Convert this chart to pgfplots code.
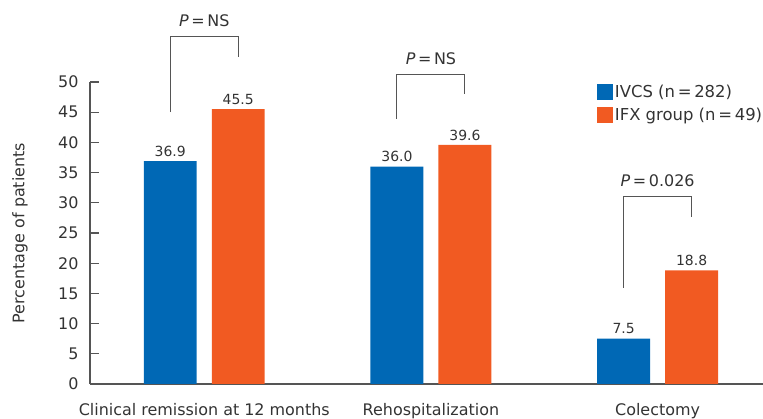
\documentclass[border=0pt]{standalone}
\usepackage{fontspec}
\setmainfont{DejaVu Sans}
\usepackage{pgfplots}
\pgfplotsset{compat=1.18}
\definecolor{ivcs}{HTML}{0068B5}
\definecolor{ifx}{HTML}{F15A22}
\definecolor{axgray}{HTML}{555555}
\definecolor{txtgray}{HTML}{333333}
\newcommand{\fs}[1]{\fontsize{#1}{#1}\selectfont}
\begin{document}
\begin{tikzpicture}
\useasboundingbox (0,0) rectangle (763bp,419bp);
\begin{axis}[
  at={(90bp,35bp)}, anchor=south west, scale only axis,
  width=673bp, height=302bp,
  xmin=-0.504, xmax=2.465, ymin=0, ymax=50,
  axis x line*=bottom, axis y line*=left,
  axis line style={draw=axgray, line width=1.1bp},
  ytick={0,5,...,50},
  xtick={0,1,2},
  xticklabels={Clinical remission at 12 months, Rehospitalization, Colectomy},
  x tick style={draw=none},
  y tick style={draw=axgray, line width=1.1bp},
  tick align=inside, major tick length=9bp,
  /pgf/number format/assume math mode=true,
  ticklabel style={text=txtgray, font=\fs{16}},
  yticklabel style={xshift=-8bp},
  xticklabel style={yshift=-7bp},
  ylabel={Percentage of patients},
  ylabel style={at={(axis description cs:-0.104,0.5)}, anchor=center, font=\fs{16}, text=txtgray},
  ybar, bar width=0.2335, bar shift=0pt,
  nodes near coords={\pgfmathprintnumber[fixed,fixed zerofill,precision=1]{\pgfplotspointmeta}},
  nodes near coords style={font=\fs{14}, text=txtgray, yshift=1bp},
  clip=false,
  legend style={at={(axis description cs:0.753,0.997)}, anchor=north west,
    draw=none, fill=none, inner sep=0pt, font=\fs{16.5}, text=txtgray, row sep=5bp},
  legend cell align=left,
  legend image code/.code={\fill[#1] (0bp,-8bp) rectangle (16bp,8bp);},
]
\addplot[fill=ivcs, draw=none] coordinates {(-0.15,36.9) (0.85,36.0) (1.85,7.5)};
\addlegendentry{IVCS (n\,=\,282)}
\addplot[fill=ifx, draw=none] coordinates {(0.15,45.5) (1.15,39.6) (2.15,18.8)};
\addlegendentry{IFX group (n\,=\,49)}

\draw[axgray, line width=1.1bp] (axis cs:-0.15,45.0) |- (axis cs:0.15,57.6) -- (axis cs:0.15,54.1);
\node[font=\fs{16}, text=txtgray] at (axis cs:0,60.2) {\textit{P}\,=\,NS};
\draw[axgray, line width=1.1bp] (axis cs:0.85,43.9) |- (axis cs:1.15,51.3) -- (axis cs:1.15,48.0);
\node[font=\fs{16}, text=txtgray] at (axis cs:1,53.9) {\textit{P}\,=\,NS};
\draw[axgray, line width=1.1bp] (axis cs:1.85,15.9) |- (axis cs:2.15,31.0) -- (axis cs:2.15,27.6);
\node[font=\fs{16}, text=txtgray] at (axis cs:2,33.6) {\textit{P}\,=\,0.026};
\end{axis}
\end{tikzpicture}
\end{document}
